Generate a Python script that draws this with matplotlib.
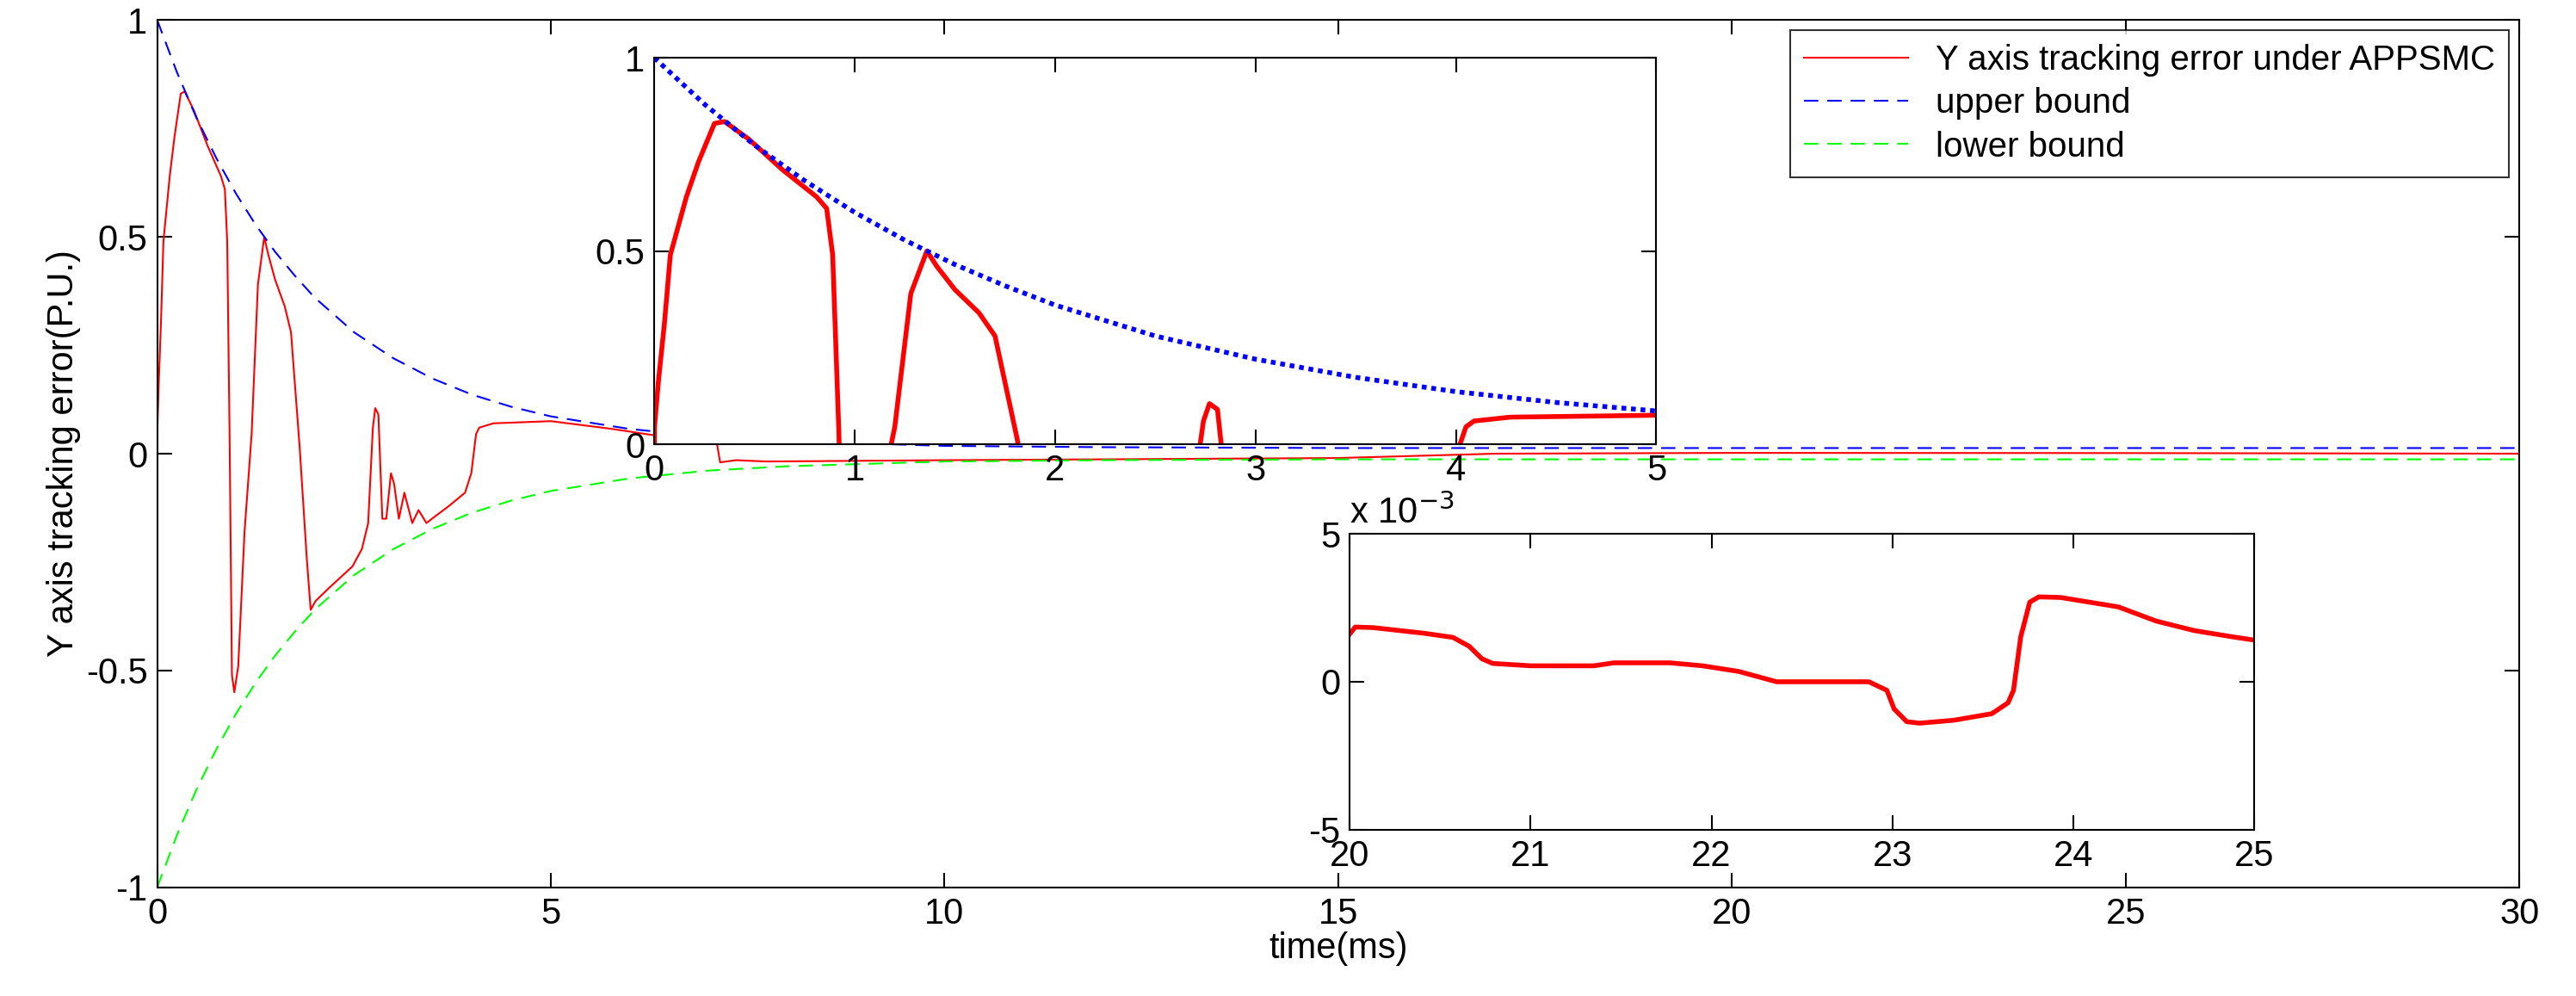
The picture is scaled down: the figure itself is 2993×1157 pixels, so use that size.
import numpy as np
import matplotlib.pyplot as plt

plt.rcParams['font.family'] = ['Liberation Sans', 'DejaVu Sans']
plt.rcParams['font.size'] = 30
plt.rcParams['axes.unicode_minus'] = False

# Y axis tracking error (P.U.) vs time (ms)
t_err = [0, 0.001, 0.02, 0.05, 0.08, 0.16, 0.22, 0.30, 0.35, 0.47, 0.64, 0.81, 0.86, 0.89, 0.92,
         0.95, 0.98, 1.03, 1.11, 1.20, 1.28, 1.36, 1.41, 1.50, 1.62, 1.70, 1.81, 1.90, 1.95, 2.01,
         2.18, 2.48, 2.60, 2.68, 2.74, 2.77, 2.81, 2.86, 2.91, 2.97, 3.01, 3.07, 3.14, 3.24, 3.32,
         3.42, 3.49, 3.71, 3.91, 3.99, 4.05, 4.09, 4.27, 5.0, 5.78, 6.40, 6.45, 7.10, 7.15, 7.35,
         7.74, 10, 15, 16, 17, 20, 25, 30]
e_err = [-0.09, 0.045, 0.16, 0.31, 0.49, 0.64, 0.73, 0.83, 0.835, 0.79, 0.71, 0.64, 0.61, 0.49, 0.045,
         -0.51, -0.55, -0.49, -0.18, 0.045, 0.39, 0.50, 0.46, 0.40, 0.34, 0.28, 0.015, -0.24, -0.36, -0.34,
         -0.31, -0.26, -0.22, -0.16, 0.06, 0.105, 0.09, -0.15, -0.15, -0.045, -0.07, -0.15, -0.09, -0.16, -0.13,
         -0.16, -0.15, -0.12, -0.09, -0.045, 0.045, 0.06, 0.07, 0.075, 0.057, 0.04, 0.05, 0.034, -0.02, -0.015,
         -0.018, -0.015, -0.01, -0.005, 0.0, 0.0018, 0.0014, 0.0]

# prescribed performance bound
t_bnd = [0, 0.25, 0.5, 0.75, 1, 1.25, 1.5, 1.75, 2, 2.5, 3, 3.5, 4, 4.5, 5, 6, 7, 8, 10, 12, 15, 20, 30]
upper = [1.0, 0.880, 0.774, 0.682, 0.600, 0.528, 0.465, 0.410, 0.360, 0.280, 0.220, 0.173, 0.136,
         0.108, 0.086, 0.057, 0.039, 0.029, 0.018, 0.015, 0.013, 0.013, 0.013]
lower = [-u for u in upper]

# zoom 20-25 ms, units of 1e-3
t_zoom = [20, 20.03, 20.13, 20.41, 20.57, 20.66, 20.73, 20.79, 21.0, 21.35, 21.46, 21.77, 21.95, 22.15,
          22.36, 22.87, 22.97, 23.01, 23.08, 23.15, 23.34, 23.55, 23.64, 23.67, 23.71, 23.76, 23.81,
          23.93, 24.25, 24.46, 24.67, 24.88, 25]
e_zoom = [1.62, 1.85, 1.83, 1.64, 1.5, 1.2, 0.78, 0.62, 0.54, 0.54, 0.64, 0.64, 0.54, 0.35,
          0, 0, -0.29, -0.92, -1.35, -1.4, -1.3, -1.08, -0.71, -0.29, 1.52, 2.69, 2.87,
          2.85, 2.53, 2.05, 1.73, 1.52, 1.41]

fig = plt.figure(figsize=(29.93, 11.57), dpi=100)

def matlab_ax(ax):
    ax.tick_params(direction='in', top=True, right=True, length=12, width=1.5, pad=8)
    for s in ax.spines.values():
        s.set_linewidth(1.5)

ax = fig.add_axes([0.061, 0.109, 0.917, 0.871])
ax.plot(t_err, e_err, color='red', lw=1.5, label='Y axis tracking error under APPSMC')
ax.plot(t_bnd, upper, color='blue', lw=1.5, ls=(0, (8, 5)), label='upper bound')
ax.plot(t_bnd, lower, color='#00ff00', lw=1.5, ls=(0, (8, 5)), label='lower bound')
ax.set_xlim(0, 30)
ax.set_ylim(-1, 1)
ax.set_xticks([0, 5, 10, 15, 20, 25, 30])
ax.set_yticks([-1, -0.5, 0, 0.5, 1])
ax.set_yticklabels(['-1', '-0.5', '0', '0.5', '1'])
ax.set_xlabel('time(ms)', labelpad=0)
ax.set_ylabel('Y axis tracking error(P.U.)', labelpad=4)
matlab_ax(ax)
leg = ax.legend(loc='upper right', fancybox=False, edgecolor='black', handlelength=3,
                borderaxespad=0.3, fontsize=29, labelspacing=0.3)
leg.get_frame().set_linewidth(1.5)

ax1 = fig.add_axes([0.254, 0.554, 0.389, 0.388])
ax1.plot(t_err, e_err, color='red', lw=4)
ax1.plot(t_bnd, upper, color='blue', lw=4, ls=(0, (1, 1)))
ax1.set_xlim(0, 5)
ax1.set_ylim(0, 1)
ax1.set_xticks([0, 1, 2, 3, 4, 5])
ax1.set_yticks([0, 0.5, 1])
ax1.set_yticklabels(['0', '0.5', '1'])
matlab_ax(ax1)

ax2 = fig.add_axes([0.524, 0.167, 0.351, 0.297])
ax2.plot(t_zoom, e_zoom, color='red', lw=4)
ax2.set_xlim(20, 25)
ax2.set_ylim(-5, 5)
ax2.set_xticks([20, 21, 22, 23, 24, 25])
ax2.set_yticks([-5, 0, 5])
matlab_ax(ax2)
ax2.text(0.0, 1.01, r'x 10$^{-3}$', transform=ax2.transAxes, ha='left', va='bottom')

fig.savefig('out.png', dpi=100, facecolor='white')
